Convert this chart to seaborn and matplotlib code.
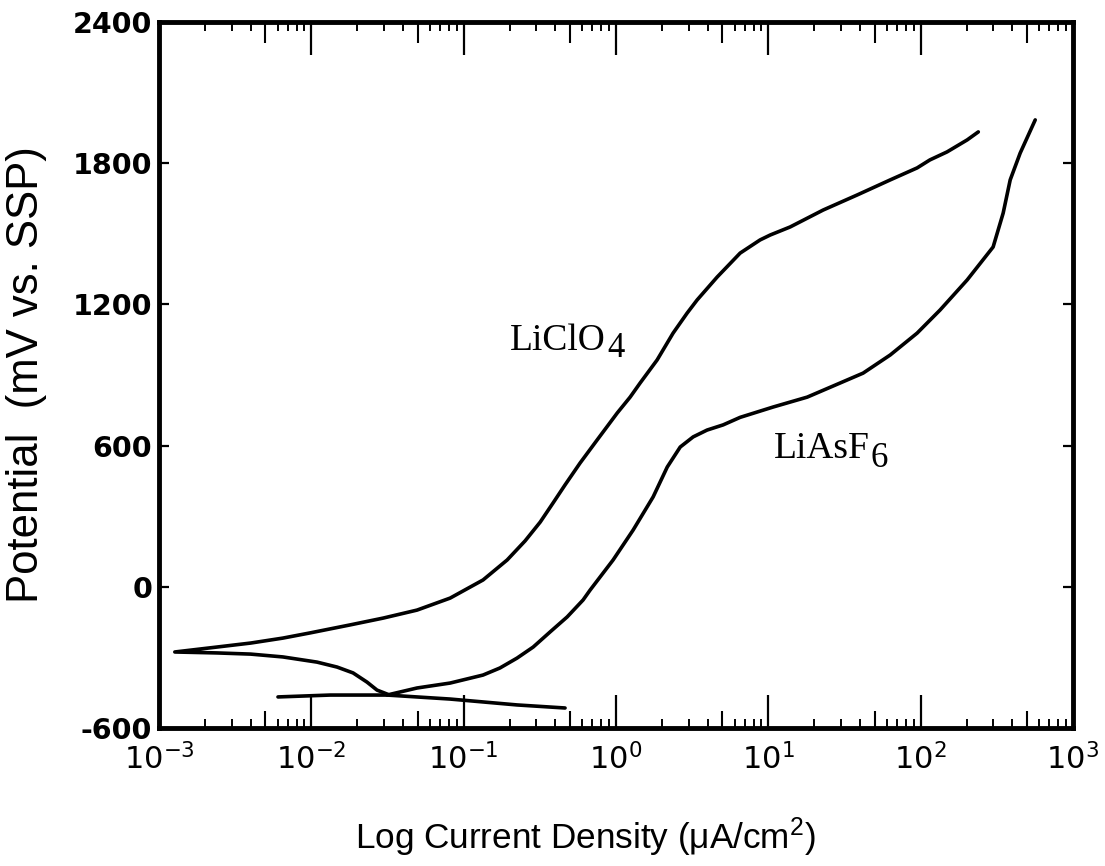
import matplotlib
matplotlib.use("Agg")
import matplotlib.pyplot as plt
import numpy as np
import pandas as pd
import seaborn as sns
from matplotlib.ticker import LogLocator, NullLocator, NullFormatter

# ---------------- data ----------------
# LiClO4: cathodic branch (from its low end back to the corrosion tip), then anodic branch
liclo4_current = [0.0318, 0.0270, 0.0232, 0.0188, 0.01475, 0.01089, 0.0065, 0.0040,
                  0.0024, 0.00127,
                  0.0024, 0.0040, 0.0065, 0.0098, 0.01795, 0.0296, 0.0494, 0.0815,
                  0.134, 0.193, 0.253, 0.318, 0.386, 0.463, 0.581, 0.752, 1.02,
                  1.238, 1.44, 1.862, 2.37, 2.93, 3.41, 4.61, 6.53, 8.83, 10.3,
                  13.9, 22.9, 38.3, 63.1, 94.8, 115, 149, 202, 239]
liclo4_potential = [-457, -439, -405, -366, -341, -320, -298, -286,
                    -281, -277,
                    -256, -239, -218, -196, -162, -133, -99, -48,
                    29, 114, 195, 275, 356, 433, 526, 624, 739,
                    806, 866, 964, 1078, 1163, 1219, 1316, 1418, 1474, 1495,
                    1529, 1601, 1665, 1729, 1780, 1814, 1848, 1899, 1933]

# LiAsF6: main (anodic) branch
liasf6_current = [0.00604, 0.0133, 0.0314, 0.0494, 0.0815, 0.134, 0.173, 0.224,
                  0.286, 0.369, 0.478, 0.608, 0.676, 0.957, 1.295, 1.753, 2.17,
                  2.64, 3.21, 3.96, 5.05, 6.53, 10.76, 18.0, 29.6, 41.9, 63.1,
                  94.8, 134, 202, 299, 348, 387, 450, 565]
liasf6_potential = [-468, -460, -460, -430, -409, -375, -345, -303,
                    -256, -192, -128, -56, -14, 114, 241, 382, 509,
                    594, 637, 666, 688, 720, 764, 806, 866, 908, 985,
                    1078, 1176, 1304, 1444, 1588, 1729, 1843, 1984]

# LiAsF6: cathodic tail
liasf6_tail_current = [0.0314, 0.0815, 0.224, 0.463]
liasf6_tail_potential = [-460, -477, -502, -515]

x_ticks = [1e-3, 1e-2, 1e-1, 1e0, 1e1, 1e2, 1e3]
x_tick_labels = [r"$10^{-3}$", r"$10^{-2}$", r"$10^{-1}$", r"$10^{0}$",
                 r"$10^{1}$", r"$10^{2}$", r"$10^{3}$"]
y_ticks = [-600, 0, 600, 1200, 1800, 2400]
y_tick_labels = ["-600", "0", "600", "1200", "1800", "2400"]

# ---------------- build table ----------------
frames = []
for name, seg, xs, ys in [
    ("LiClO4", "LiClO4", liclo4_current, liclo4_potential),
    ("LiAsF6", "LiAsF6-main", liasf6_current, liasf6_potential),
    ("LiAsF6", "LiAsF6-tail", liasf6_tail_current, liasf6_tail_potential),
]:
    frames.append(pd.DataFrame({"current": xs, "potential": ys,
                                "electrolyte": name, "segment": seg}))
df = pd.concat(frames, ignore_index=True)

# ---------------- style ----------------
sns.set_theme(style="ticks")
plt.rcParams["font.family"] = ["Liberation Sans", "DejaVu Sans"]
plt.rcParams["mathtext.default"] = "regular"
plt.rcParams["axes.unicode_minus"] = False
for k in ("text.color", "axes.labelcolor", "xtick.color", "ytick.color", "axes.edgecolor"):
    plt.rcParams[k] = "black"

W, H = 1105, 866
fig = plt.figure(figsize=(W / 100, H / 100), dpi=100)
fig.patch.set_facecolor("white")
ax = fig.add_axes([159 / W, 1 - 728 / H, 914 / W, 706 / H])
ax.set_facecolor("white")
ax.set_xscale("log")

sns.lineplot(data=df, x="current", y="potential", hue="electrolyte",
             units="segment", estimator=None, sort=False,
             palette={"LiClO4": "black", "LiAsF6": "black"},
             linewidth=2.6, legend=False, ax=ax,
             solid_joinstyle="round", solid_capstyle="round")

ax.set_xlim(1e-3, 1e3)
ax.set_ylim(-600, 2400)

# ---------------- ticks ----------------
ax.set_xticks(x_ticks, labels=x_tick_labels, fontfamily="DejaVu Sans", fontsize=22)
ax.xaxis.set_minor_locator(LogLocator(base=10, subs=(2, 3, 4, 6, 7, 8, 9), numticks=100))
ax.xaxis.set_minor_formatter(NullFormatter())
ax.tick_params(axis="x", which="major", direction="in", length=24, width=1.6,
               top=True, bottom=True, pad=11, colors="black")
ax.tick_params(axis="x", which="minor", direction="in", length=6.5, width=1.4,
               top=True, bottom=True)

ax.set_yticks(y_ticks, labels=y_tick_labels, fontfamily="DejaVu Sans",
              fontweight="bold", fontsize=20.5)
ax.tick_params(axis="y", which="major", direction="in", length=7, width=1.6,
               left=True, right=True, pad=5, colors="black")
ax.yaxis.set_minor_locator(NullLocator())

# medium ticks at 5 x 10^n (bottom and top)
for loc, ln in (("bottom", 12), ("top", 15)):
    sec = ax.secondary_xaxis(loc)
    sec.xaxis.set_major_locator(LogLocator(base=10, subs=(5,), numticks=100))
    sec.xaxis.set_major_formatter(NullFormatter())
    sec.xaxis.set_minor_locator(NullLocator())
    sec.tick_params(direction="in", length=ln, width=1.5, colors="black")
    sec.spines[loc].set_visible(False)

for s in ax.spines.values():
    s.set_visible(True)
    s.set_linewidth(3.5)
    s.set_color("black")

# ---------------- labels ----------------
ax.set_xlabel("Log Current Density (μA/cm$^2$)", fontsize=25.3, color="black")
ax.xaxis.set_label_coords(0.466, -0.155)
ax.xaxis.label.set_verticalalignment("center")

ax.set_ylabel("Potential  (mV vs. SSP)", fontsize=31.5, color="black")
ax.yaxis.set_label_coords(-0.1455, 0.5)
ax.yaxis.label.set_verticalalignment("center")

t1 = ax.text(0.3844, 0.5354, "LiClO", transform=ax.transAxes, color="black",
             fontfamily="Liberation Serif", fontsize=27, ha="left", va="baseline")
ax.annotate("4", xy=(1, 0), xycoords=t1, xytext=(1, 1), textcoords="offset pixels",
            color="black", fontfamily="Liberation Serif", fontsize=25,
            ha="left", va="baseline")

t2 = ax.text(0.6725, 0.3824, "LiAsF", transform=ax.transAxes, color="black",
             fontfamily="Liberation Serif", fontsize=27, ha="left", va="baseline")
ax.annotate("6", xy=(1, 0), xycoords=t2, xytext=(1, -1), textcoords="offset pixels",
            color="black", fontfamily="Liberation Serif", fontsize=25,
            ha="left", va="baseline")

fig.savefig("out.png", dpi=100, facecolor="white")
